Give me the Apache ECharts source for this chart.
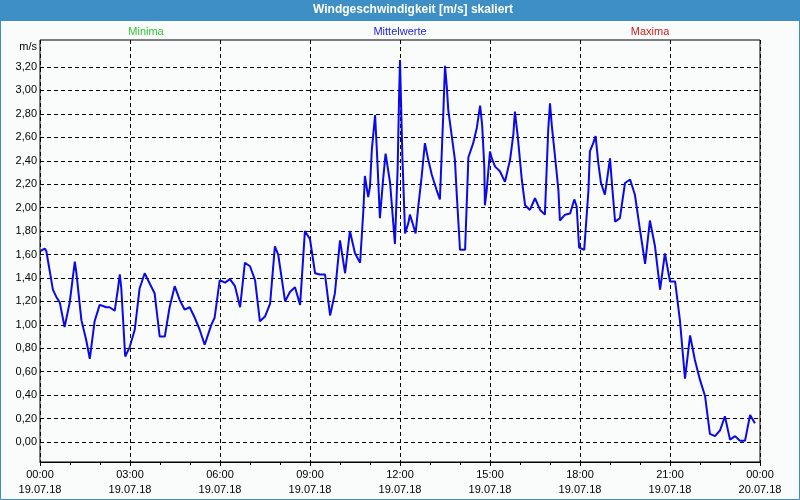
<!DOCTYPE html>
<html>
<head>
<meta charset="utf-8">
<script src="https://cdn.jsdelivr.net/npm/echarts@6/dist/echarts.min.js"></script>
<style>
    html, body { margin: 0; padding: 0; }
    #wind { width: 800px; height: 500px; }
</style>
</head>
<body>
<div id="wind"></div>
<script>
// Stunden seit 19.07.18 00:00
var hours = [0.02, 0.16, 0.21, 0.43, 0.54, 0.66, 0.82, 0.99, 1.16, 1.21, 1.38, 1.54, 1.66, 1.82, 1.99,
    2.10, 2.21, 2.32, 2.49, 2.60, 2.66, 2.71, 2.84, 2.99, 3.16, 3.32, 3.49, 3.66, 3.82, 3.99,
    4.16, 4.32, 4.49, 4.66, 4.82, 4.99, 5.16, 5.32, 5.49, 5.71, 5.82, 5.99, 6.17, 6.33, 6.50,
    6.67, 6.83, 7.00, 7.17, 7.33, 7.50, 7.67, 7.83, 7.94, 8.17, 8.33, 8.50, 8.67, 8.83, 9.00,
    9.17, 9.33, 9.50, 9.67, 9.83, 10.00, 10.17, 10.33, 10.50, 10.67, 10.78, 10.83, 10.94, 11.00,
    11.06, 11.17, 11.24, 11.33, 11.44, 11.52, 11.67, 11.83, 11.92, 11.97, 12.00, 12.08, 12.17,
    12.28, 12.33, 12.44, 12.52, 12.61, 12.72, 12.83, 12.94, 13.06, 13.22, 13.33, 13.44, 13.50,
    13.56, 13.61, 13.72, 13.83, 13.89, 14.00, 14.17, 14.28, 14.44, 14.56, 14.67, 14.74, 14.81,
    14.83, 14.89, 15.00, 15.06, 15.17, 15.33, 15.50, 15.67, 15.78, 15.83, 15.92, 16.06, 16.17,
    16.33, 16.50, 16.67, 16.83, 16.94, 17.00, 17.06, 17.17, 17.28, 17.33, 17.50, 17.67, 17.81,
    17.89, 17.97, 18.14, 18.28, 18.33, 18.44, 18.52, 18.61, 18.70, 18.83, 18.94, 19.00, 19.06,
    19.17, 19.33, 19.50, 19.67, 19.83, 20.00, 20.17, 20.33, 20.50, 20.67, 20.83, 21.00, 21.17,
    21.33, 21.50, 21.67, 21.83, 22.00, 22.17, 22.33, 22.50, 22.67, 22.83, 23.00, 23.17, 23.33,
    23.50, 23.67, 23.83];

var mittelwerte = [1.63, 1.65, 1.63, 1.30, 1.24, 1.19, 0.98, 1.19, 1.54, 1.45, 1.04, 0.87, 0.71, 1.03, 1.17,
    1.16, 1.15, 1.15, 1.12, 1.31, 1.43, 1.31, 0.73, 0.81, 0.96, 1.31, 1.44, 1.35, 1.27, 0.90,
    0.90, 1.15, 1.33, 1.21, 1.13, 1.15, 1.06, 0.96, 0.83, 1.00, 1.06, 1.38, 1.36, 1.39, 1.33,
    1.15, 1.53, 1.50, 1.38, 1.03, 1.07, 1.18, 1.67, 1.60, 1.20, 1.28, 1.32, 1.17, 1.80, 1.73,
    1.44, 1.43, 1.43, 1.08, 1.27, 1.72, 1.44, 1.80, 1.61, 1.53, 1.98, 2.27, 2.09, 2.18,
    2.49, 2.79, 2.43, 1.91, 2.25, 2.46, 2.21, 1.69, 2.32, 2.95, 3.26, 2.43, 1.78,
    1.87, 1.94, 1.85, 1.78, 2.01, 2.26, 2.55, 2.41, 2.28, 2.15, 2.07, 2.78, 3.21,
    3.03, 2.83, 2.62, 2.41, 2.12, 1.64, 1.64, 2.43, 2.55, 2.68, 2.87, 2.70, 2.35,
    2.02, 2.15, 2.48, 2.42, 2.35, 2.31, 2.22, 2.41, 2.63, 2.82, 2.62, 2.24, 2.02,
    1.98, 2.08, 1.98, 1.94, 2.66, 2.89, 2.70, 2.43, 2.15, 1.89, 1.94, 1.95, 2.07,
    2.01, 1.66, 1.64, 2.14, 2.48, 2.55, 2.61, 2.38, 2.21, 2.11, 2.31, 2.42, 2.22,
    1.88, 1.91, 2.21, 2.24, 2.11, 1.81, 1.52, 1.89, 1.67, 1.30, 1.61, 1.37, 1.37,
    1.04, 0.54, 0.91, 0.70, 0.53, 0.39, 0.07, 0.05, 0.10, 0.22, 0.02, 0.05, 0.01,
    0.01, 0.23, 0.16];

var xTickLabels = ['00:00\n19.07.18', '03:00\n19.07.18', '06:00\n19.07.18', '09:00\n19.07.18',
    '12:00\n19.07.18', '15:00\n19.07.18', '18:00\n19.07.18', '21:00\n19.07.18', '00:00\n20.07.18'];

var legendNames = ['Minima', 'Mittelwerte', 'Maxima'];
var legendColors = ['#2ec62e', '#2323e0', '#c81e1e'];
var legendX = [146, 400, 650];

var chart = echarts.init(document.getElementById('wind'));

var titles = [{
    text: 'Windgeschwindigkeit [m/s] skaliert',
    left: 413,
    top: 4,
    padding: 0,
    textAlign: 'center',
    textStyle: { color: '#fff', fontSize: 12, fontWeight: 'bold', fontFamily: 'Liberation Sans' },
    z: 10
}];
for (var i = 0; i < legendNames.length; i++) {
    titles.push({
        text: legendNames[i],
        left: legendX[i],
        top: 26,
        padding: 0,
        textAlign: 'center',
        textStyle: { color: legendColors[i], fontSize: 11, fontWeight: 'normal', fontFamily: 'Liberation Sans' }
    });
}

var data = [];
for (var j = 0; j < hours.length; j++) {
    data.push([hours[j], mittelwerte[j]]);
}

var dashed = { color: '#000', type: [4, 3], width: 1 };
var labelFont = { color: '#000', fontSize: 11, fontFamily: 'Liberation Sans' };

var option = {
    backgroundColor: '#fafcfc',
    animation: false,
    title: titles,
    graphic: [
        { type: 'rect', shape: { x: 0, y: 0, width: 800, height: 21 }, style: { fill: '#3d8fc5' }, z: 0 },
        { type: 'rect', shape: { x: 0.5, y: 0.5, width: 799, height: 499 }, style: { fill: 'none', stroke: '#3d8fc5', lineWidth: 1 }, z: 0 }
    ],
    grid: [
        // Rahmen + Zeitachse
        { left: 40, right: 40, top: 40, bottom: 38, show: true, borderColor: '#000', borderWidth: 1, backgroundColor: 'transparent' },
        // Werteachse 0..3,20
        { left: 40, right: 40, top: 67, bottom: 58 }
    ],
    xAxis: [
        {
            type: 'value', gridIndex: 0, min: 0, max: 24, interval: 3,
            axisLine: { lineStyle: { color: '#000' } },
            axisTick: { show: true, length: 4, lineStyle: { color: '#000' } },
            minorTick: { show: true, splitNumber: 3, length: 3, lineStyle: { color: '#000' } },
            splitLine: { show: true, lineStyle: dashed },
            axisLabel: Object.assign({
                margin: 5, lineHeight: 15,
                formatter: function (v) { return xTickLabels[Math.round(v / 3)]; }
            }, labelFont)
        },
        { type: 'value', gridIndex: 1, min: 0, max: 24, show: false }
    ],
    yAxis: [
        { type: 'value', gridIndex: 0, min: 0, max: 1, show: false },
        {
            type: 'value', gridIndex: 1, min: 0, max: 3.2, interval: 0.2,
            name: 'm/s', nameLocation: 'end', nameGap: 15,
            nameTextStyle: Object.assign({ align: 'right', padding: [0, 3, 0, 0] }, labelFont),
            axisLine: { show: false },
            axisTick: { show: false },
            splitLine: { show: true, lineStyle: dashed },
            axisLabel: Object.assign({
                margin: 3,
                formatter: function (v) { return v.toFixed(2).replace('.', ','); }
            }, labelFont)
        }
    ],
    series: [
        {
            name: 'Mittelwerte',
            type: 'line',
            xAxisIndex: 1,
            yAxisIndex: 1,
            clip: false,
            showSymbol: false,
            lineStyle: { color: '#0a0ae8', width: 2 },
            data: data
        }
    ]
};
chart.setOption(option);
</script>
</body>
</html>
